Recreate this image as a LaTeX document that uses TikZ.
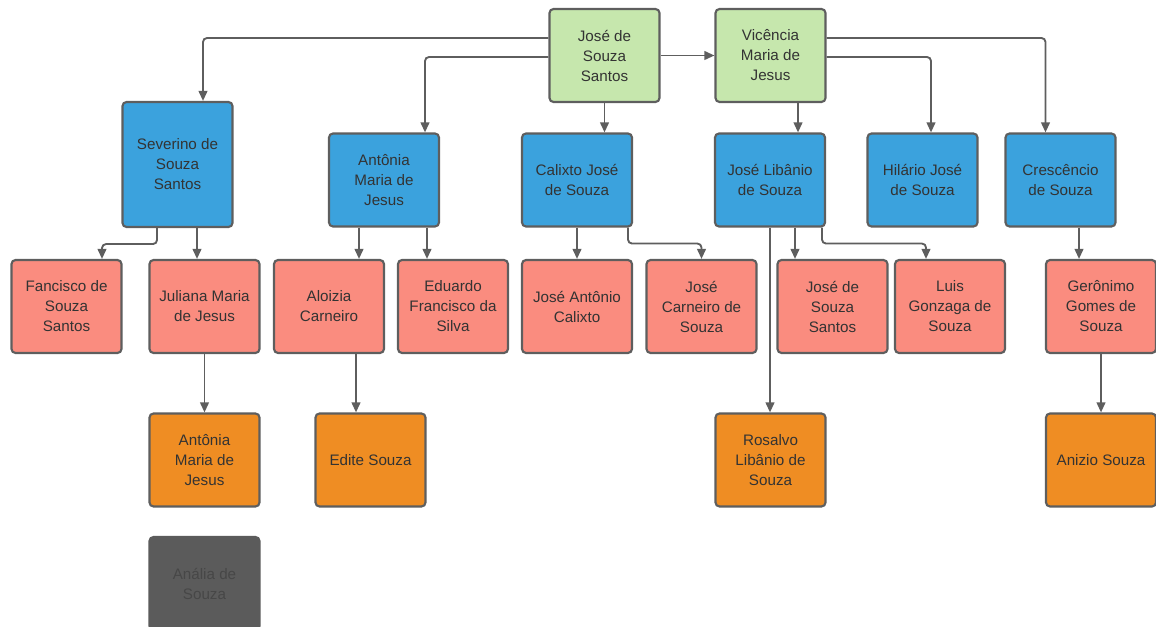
\documentclass[tikz,border=0pt]{standalone}
\usepackage{fontspec}
\setmainfont{Liberation Sans}
\usepackage{tikz}
\usetikzlibrary{calc}
\usetikzlibrary{arrows.meta}
\definecolor{box_green}{HTML}{C6E7AD}
\definecolor{box_blue}{HTML}{3BA2DD}
\definecolor{box_salmon}{HTML}{FA8C7F}
\definecolor{box_orange}{HTML}{EF8D23}
\definecolor{box_gray}{HTML}{5B5B5B}
\definecolor{box_line}{HTML}{5E5E5E}
\definecolor{box_text}{HTML}{333333}
\tikzstyle{person} = [draw = box_line, line width = 1.6pt, rounded corners = 3pt, minimum width = 82.5pt, minimum height = 69.75pt, align = center, text = box_text, font = \fontsize{11.4}{15}\selectfont]
\tikzstyle{person_green} = [person, fill = box_green]
\tikzstyle{person_blue} = [person, fill = box_blue]
\tikzstyle{person_salmon} = [person, fill = box_salmon]
\tikzstyle{person_orange} = [person, fill = box_orange]
\tikzstyle{person_gray} = [person, fill = box_gray, draw = box_gray, text = black!72]
\tikzstyle{link} = [draw = box_line, line width = 1.4pt, rounded corners = 3pt, -{Triangle[length = 7.5pt, width = 6.5pt]}]

\begin{document}
\begin{tikzpicture}[x = 0.75pt, y = -0.75pt]
        \useasboundingbox (0,0) rectangle (1156,627);
        % parents
        \node [style = {person_green}] (jss) at (604.5,55.5) {José de\\Souza\\Santos};
        \node [style = {person_green}] (vic) at (770.5,55.5) {Vicência\\Maria de\\Jesus};
        % children
        \node [style = {person_blue}, minimum height = 93.75pt] (sev) at (177.5,164.5) {Severino de\\Souza\\Santos};
        \node [style = {person_blue}] (antb) at (384,180) {Antônia\\Maria de\\Jesus};
        \node [style = {person_blue}] (cal) at (577,180) {Calixto José\\de Souza};
        \node [style = {person_blue}] (jlib) at (770,180) {José Libânio\\de Souza};
        \node [style = {person_blue}] (hil) at (922.5,180) {Hilário José\\de Souza};
        \node [style = {person_blue}] (cre) at (1060.5,180) {Crescêncio\\de Souza};
        % grandchildren
        \node [style = {person_salmon}] (fan) at (66.5,306.5) {Fancisco de\\Souza\\Santos};
        \node [style = {person_salmon}] (jul) at (204.5,306.5) {Juliana Maria\\de Jesus};
        \node [style = {person_salmon}] (alo) at (329,306.5) {Aloizia\\Carneiro};
        \node [style = {person_salmon}] (edu) at (453,306.5) {Eduardo\\Francisco da\\Silva};
        \node [style = {person_salmon}] (jant) at (577,306.5) {José Antônio\\Calixto};
        \node [style = {person_salmon}] (jcar) at (701.5,306.5) {José\\Carneiro de\\Souza};
        \node [style = {person_salmon}] (jss2) at (832.5,306.5) {José de\\Souza\\Santos};
        \node [style = {person_salmon}] (lui) at (950,306.5) {Luis\\Gonzaga de\\Souza};
        \node [style = {person_salmon}] (ger) at (1101,306.5) {Gerônimo\\Gomes de\\Souza};
        % great-grandchildren
        \node [style = {person_orange}] (anto) at (204.5,460) {Antônia\\Maria de\\Jesus};
        \node [style = {person_orange}] (edi) at (370.5,460) {Edite Souza};
        \node [style = {person_orange}] (ros) at (770.5,460) {Rosalvo\\Libânio de\\Souza};
        \node [style = {person_orange}] (ani) at (1101,460) {Anizio Souza};
        \node [style = {person_gray}] (ana) at (204.5,583.5) {Anália de\\Souza};

        \draw [style = {link}] (jss.east) -- (vic.west);
        \draw [style = {link}] ($(jss.west)+(0,-17.5)$) -| ($(sev.north)+(25.5,0)$);
        \draw [style = {link}] ($(jss.west)+(0,1.5)$) -| ($(antb.north)+(41,0)$);
        \draw [style = {link}] (jss.south) -- (jss.south |- cal.north);
        \draw [style = {link}] ($(vic.south)+(27.5,0)$) coordinate (v1) -- (v1 |- jlib.north);
        \draw [style = {link}] ($(vic.east)+(0,1.5)$) -| ($(hil.north)+(8.5,0)$);
        \draw [style = {link}] ($(vic.east)+(0,-17.5)$) -| ($(cre.north)+(-15,0)$);

        \draw [style = {link}] ($(sev.south)+(-20.5,0)$) -- ++(0,16) -| ($(fan.north)+(35.5,0)$);
        \draw [style = {link}] ($(sev.south)+(19.5,0)$) coordinate (s1) -- (s1 |- jul.north);
        \draw [style = {link}] ($(antb.south)+(-25,0)$) coordinate (a1) -- (a1 |- alo.north);
        \draw [style = {link}] ($(antb.south)+(43,0)$) coordinate (a2) -- (a2 |- edu.north);
        \draw [style = {link}] (cal.south) -- (jant.north);
        \draw [style = {link}] ($(cal.south)+(51,0)$) -- ++(0,16) -| (jcar.north);
        \draw [style = {link}] (jlib.south) -- (jlib.south |- ros.north);
        \draw [style = {link}] ($(jlib.south)+(25,0)$) coordinate (j1) -- (j1 |- jss2.north);
        \draw [style = {link}] ($(jlib.south)+(52,0)$) -- ++(0,16) -| ($(lui.north)+(-24,0)$);
        \draw [style = {link}] ($(cre.south)+(18.5,0)$) coordinate (c1) -- (c1 |- ger.north);

        \draw [style = {link}] (jul.south) -- (anto.north);
        \draw [style = {link}] ($(alo.south)+(27,0)$) coordinate (l1) -- (l1 |- edi.north);
        \draw [style = {link}] (ger.south) -- (ani.north);
    \end{tikzpicture}
\end{document}
